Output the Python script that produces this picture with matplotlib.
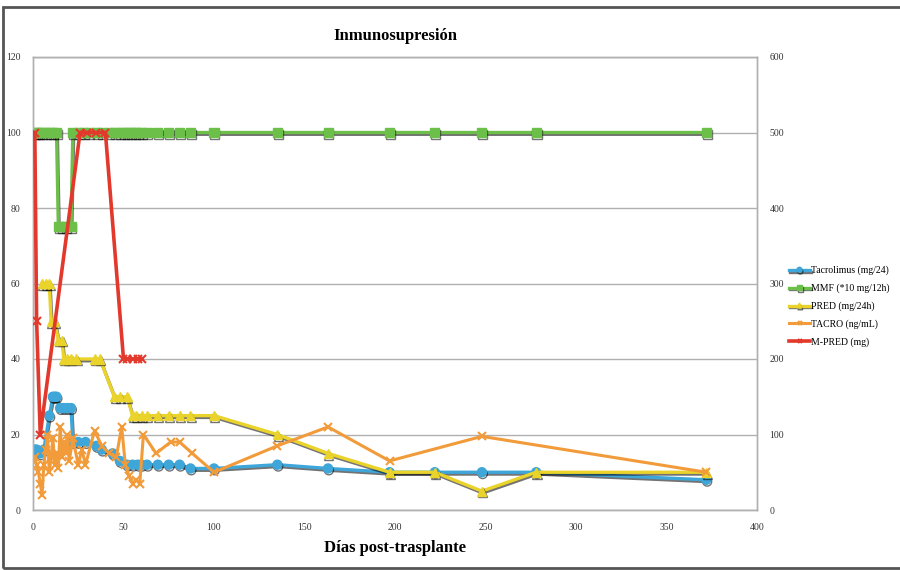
import matplotlib
matplotlib.use("Agg")
import matplotlib.pyplot as plt
import matplotlib.patheffects as pe
from matplotlib.patches import Rectangle

# data (days post-transplant and values)
tacro_mg_days = [1, 2, 4, 6, 9, 11, 12, 13, 15, 17, 19, 21, 22, 25, 29, 35, 38, 44, 48, 52,
                 55, 58, 60, 63, 69, 75, 81, 87, 100, 135, 163, 197, 222, 248, 278, 372]
tacro_mg = [16, 16, 15, 16, 25, 30, 30, 30, 27, 27, 27, 27, 18, 18, 18, 17, 16, 15, 13, 12,
            12, 12, 12, 12, 12, 12, 12, 11, 11, 12, 11, 10, 10, 10, 10, 8]

mmf_days = [1, 2, 3, 5, 7, 9, 11, 13, 14, 16, 18, 21, 22, 25, 28, 31, 35, 38, 42, 45, 48, 50,
            52, 54, 56, 58, 60, 63, 69, 75, 81, 87, 100, 135, 163, 197, 222, 248, 278, 372]
mmf = [100, 100, 100, 100, 100, 100, 100, 100, 75, 75, 75, 75, 100, 100, 100, 100, 100, 100,
       100, 100, 100, 100, 100, 100, 100, 100, 100, 100, 100, 100, 100, 100, 100, 100, 100,
       100, 100, 100, 100, 100]

pred_days = [5, 7, 9, 10, 12, 14, 16, 17, 19, 21, 24, 34, 37, 45, 48, 52, 55, 57, 60, 63, 69,
             75, 81, 87, 100, 135, 163, 197, 222, 248, 278, 372]
pred = [60, 60, 60, 50, 50, 45, 45, 40, 40, 40, 40, 40, 40, 30, 30, 30, 25, 25, 25, 25, 25,
        25, 25, 25, 25, 20, 15, 10, 10, 5, 10, 10]

tacro_ng_days = [1, 2, 3, 4, 5, 6, 7, 8, 9, 10, 11, 12, 13, 14, 15, 16, 17, 18, 19, 20, 22,
                 25, 27, 29, 34, 38, 42, 46, 49, 51, 53, 55, 57, 59, 61, 68, 76, 81, 88, 100,
                 135, 163, 197, 248, 372]
tacro_ng = [14, 12, 10, 7, 4, 12, 16, 20, 10, 14, 19, 12, 15, 11, 22, 14, 18, 15, 20, 13, 19,
            12, 16, 12, 21, 17, 15, 14, 22, 12, 9, 7, 8, 7, 20, 15, 18, 18, 15, 10,
            17, 22, 13, 19.5, 10]

mpred_days = [1, 2, 4, 26, 30, 35, 40, 50, 52, 55, 58, 60]
mpred = [500, 250, 100, 500, 500, 500, 500, 200, 200, 200, 200, 200]

labels = ["Tacrolimus (mg/24)", "MMF (*10 mg/12h)", "PRED (mg/24h)", "TACRO (ng/mL)", "M-PRED (mg)"]
colors = ["#3ea6d8", "#6cc04a", "#ead32a", "#f29b3a", "#e3382c"]

plt.rcParams['font.family'] = ['Liberation Serif', 'DejaVu Serif']

fig = plt.figure(figsize=(9, 5.7), dpi=100)
ax = fig.add_axes([33 / 900, 1 - 510 / 570, (757 - 33) / 900, (510 - 57) / 570])
ax2 = ax.twinx()

shadow = [pe.SimpleLineShadow(offset=(0.6, -1.3), shadow_color='black', alpha=0.55), pe.Normal()]

ax.plot(tacro_mg_days, tacro_mg, color=colors[0], lw=2.4, marker='o', ms=6.5,
        label=labels[0], path_effects=shadow, zorder=3)
ax.plot(mmf_days, mmf, color=colors[1], lw=2.4, marker='s', ms=6.5,
        label=labels[1], path_effects=shadow, zorder=2)
ax.plot(pred_days, pred, color=colors[2], lw=2.4, marker='^', ms=6.5,
        label=labels[2], path_effects=shadow, zorder=3)
ax.plot(tacro_ng_days, tacro_ng, color=colors[3], lw=2.2, marker='x', ms=6, mew=1.5,
        label=labels[3], zorder=4)
ax2.plot(mpred_days, mpred, color=colors[4], lw=2.6, marker='x', ms=6, mew=1.5,
         label=labels[4], zorder=5)

ax.set_xlim(0, 400)
ax.set_ylim(0, 120)
ax2.set_ylim(0, 600)
ax.set_xticks(range(0, 401, 50))
ax.set_yticks(range(0, 121, 20))
ax2.set_yticks(range(0, 601, 100))
ax.yaxis.grid(True, color='#b0b0b0', lw=1)
ax.set_axisbelow(True)

for a in (ax, ax2):
    a.tick_params(length=0, labelsize=7, pad=9, colors='#333333')
    for s in a.spines.values():
        s.set_color('#b0b0b0')
        s.set_linewidth(1)

ax.set_title("Inmunosupresión", fontsize=12, fontweight='bold', pad=12)
ax.set_xlabel("Días post-trasplante", fontsize=12, fontweight='bold', labelpad=6)

h1, l1 = ax.get_legend_handles_labels()
h2, l2 = ax2.get_legend_handles_labels()
fig.legend(h1 + h2, l1 + l2, loc='upper left', bbox_to_anchor=(782 / 900, 1 - 259 / 570),
           frameon=False, fontsize=7, handlelength=2.2, handletextpad=0.05,
           labelspacing=0.85, markerscale=0.55, borderpad=0.2)

# outer frame
fig.patches.append(Rectangle((3 / 900, 2 / 570), 1.2, 1 - 9 / 570, transform=fig.transFigure,
                             fill=False, edgecolor='#555555', lw=2))

fig.savefig("out.png", dpi=100)
